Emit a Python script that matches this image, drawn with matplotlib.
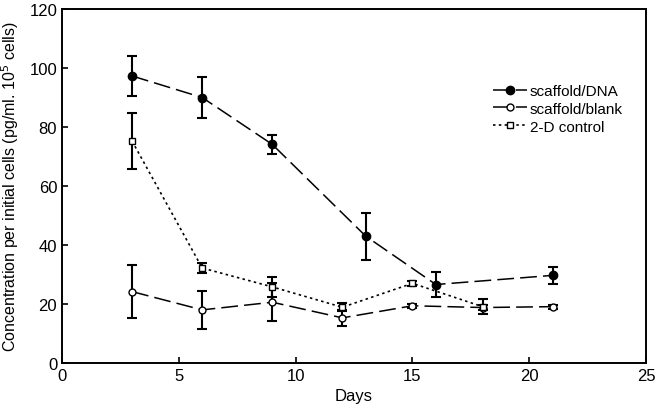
import matplotlib
matplotlib.use('Agg')
import matplotlib.pyplot as plt

plt.rcParams['font.family'] = ['Liberation Sans', 'DejaVu Sans']

# scaffold/DNA
dna_days = [3, 6, 9, 13, 16, 21]
dna_val = [97.3, 90.0, 74.1, 43.0, 26.6, 29.7]
dna_err = [6.8, 6.8, 3.2, 8.0, 4.2, 3.0]

# scaffold/blank
blank_days = [3, 6, 9, 12, 15, 18, 21]
blank_val = [24.2, 18.0, 20.6, 15.3, 19.4, 18.8, 19.1]
blank_err = [9.0, 6.5, 6.5, 2.6, 0.7, 1.0, 0.7]

# 2-D control
ctrl_days = [3, 6, 9, 12, 15, 18]
ctrl_val = [75.2, 32.2, 25.8, 18.9, 27.0, 19.1]
ctrl_err = [9.6, 1.6, 3.4, 1.3, 0.8, 2.5]

fig = plt.figure(figsize=(6.57, 4.14), dpi=100)
ax = fig.add_axes([0.0944, 0.1208, 0.889, 0.855])

long_dash = (0, (11, 4))
e1 = ax.errorbar(dna_days, dna_val, yerr=dna_err, color='black', marker='o', markersize=6,
                 linestyle=long_dash, linewidth=1.1, capsize=3.5, elinewidth=1.5,
                 capthick=1.5, label='scaffold/DNA')
e2 = ax.errorbar(blank_days, blank_val, yerr=blank_err, color='black', marker='o', markersize=5,
                 markerfacecolor='white', linestyle=long_dash, linewidth=1.1, capsize=3.5,
                 elinewidth=1.5, capthick=1.5, label='scaffold/blank')
e3 = ax.errorbar(ctrl_days, ctrl_val, yerr=ctrl_err, color='black', marker='s', markersize=5,
                 markerfacecolor='white', linestyle=(0, (1.5, 2)), linewidth=1.2, capsize=3.5,
                 elinewidth=1.5, capthick=1.5, label='2-D control')

ax.set_xlim(0, 25)
ax.set_ylim(0, 120)
ax.set_xticks([0, 5, 10, 15, 20, 25])
ax.set_yticks([0, 20, 40, 60, 80, 100, 120])
ax.tick_params(direction='in', labelsize=12, width=1.2, length=4)
for s in ax.spines.values():
    s.set_linewidth(1.4)

ax.set_xlabel('Days', fontsize=12)
ax.set_ylabel('Concentration per initial cells (pg/ml. 10$^5$ cells)', fontsize=11.5, labelpad=6)

ax.legend([e1[0], e2[0], e3[0]], ['scaffold/DNA', 'scaffold/blank', '2-D control'],
          loc='upper left', bbox_to_anchor=(0.725, 0.81), frameon=False,
          fontsize=11, handlelength=2.2, handletextpad=0.2, labelspacing=0.25,
          borderpad=0)

fig.savefig('out.png', dpi=100)
